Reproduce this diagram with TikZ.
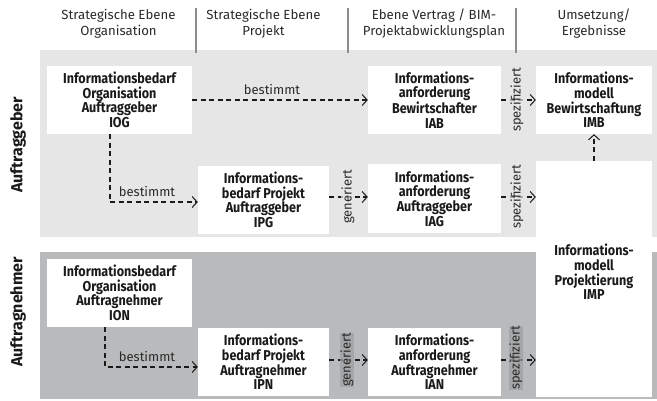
\documentclass[tikz,border=0pt]{standalone}
\usepackage{fontspec}
\setmainfont{Fira Sans}
\newfontfamily\boxfont{Fira Sans}[FakeStretch=0.88]
\usetikzlibrary{arrows.meta,calc}
\definecolor{lightbg}{HTML}{E6E6E6}
\definecolor{darkbg}{HTML}{B9BABC}
\definecolor{lblbg}{HTML}{9FA0A2}
\definecolor{sepcol}{HTML}{8C8C8C}
\definecolor{txt}{HTML}{1A1A1A}
\definecolor{hdrtxt}{HTML}{2A2A2A}
\begin{document}
\begin{tikzpicture}[x=1pt,y=-1pt,
  box/.style={fill=white,align=center,inner sep=0pt,text=txt,
    font=\boxfont\fontsize{14.3}{14.6}\selectfont\bfseries},
  hdr/.style={align=center,text=hdrtxt,inner sep=0pt,
    font=\fontsize{13.2}{16}\selectfont},
  rowlbl/.style={rotate=90,text=txt,inner sep=0pt,
    font=\fontsize{16}{16}\selectfont\bfseries},
  lbl/.style={text=hdrtxt,inner sep=0.6pt,
    font=\fontsize{13}{14}\selectfont},
  vlbl/.style={lbl,rotate=90,inner sep=0.3pt},
  lightlbl/.style={vlbl,fill=lightbg,fill opacity=0.7,text opacity=1},
  darklbl/.style={vlbl,fill=lblbg,fill opacity=0.75,text opacity=1},
  conn/.style={draw=txt,line width=1.4pt,dash pattern=on 5pt off 3.5pt,
    -{Straight Barb[length=5pt,width=11pt,line width=1pt]}},
  sepline/.style={draw=sepcol,line width=2.8pt}
]
\useasboundingbox (0,0) rectangle (657,401);
% backgrounds
\fill[lightbg] (40,50) rectangle (657,237);
\fill[darkbg] (40,252) rectangle (657,399);
% header separators
\draw[sepline] (196,8) -- (196,53);
\draw[sepline] (348,8) -- (348,53);
\draw[sepline] (516,8) -- (516,53);
% headers
\node[hdr] (h1) at (118.5,24) {Strategische Ebene\\Organisation};
\node[hdr] (h2) at (263.5,24) {Strategische Ebene\\Projekt};
\node[hdr] (h3) at (434,24) {Ebene Vertrag / BIM-\\Projektabwicklungsplan};
\node[hdr] (h4) at (594,24) {Umsetzung/\\Ergebnisse};
% row labels
\node[rowlbl] (rag) at (18,145) {Auftraggeber};
\node[rowlbl] (ran) at (18,312) {Auftragnehmer};
% boxes
\node[box,minimum width=145pt,minimum height=68pt] (iog) at (119.5,100)
  {Informationsbedarf\\Organisation\\Auftraggeber\\IOG};
\node[box,minimum width=133pt,minimum height=68pt] (iab) at (434.5,100)
  {Informations-\\anforderung\\Bewirtschafter\\IAB};
\node[box,minimum width=116pt,minimum height=68pt] (imb) at (594,100)
  {Informations-\\modell\\Bewirtschaftung\\IMB};
\node[box,minimum width=131pt,minimum height=68pt] (ipg) at (263.5,200)
  {Informations-\\bedarf Projekt\\Auftraggeber\\IPG};
\node[box,minimum width=133pt,minimum height=69pt] (iag) at (434.5,198.5)
  {Informations-\\anforderung\\Auftraggeber\\IAG};
\node[box,minimum width=116pt,minimum height=236pt] (imp) at (594,279) {};
\node[box] (imptext) at (594,272)
  {Informations-\\modell\\Projektierung\\IMP};
\node[box,minimum width=145pt,minimum height=68pt] (ion) at (119.5,293)
  {Informationsbedarf\\Organisation\\Auftragnehmer\\ION};
\node[box,minimum width=131pt,minimum height=68pt] (ipn) at (263.5,362)
  {Informations-\\bedarf Projekt\\Auftragnehmer\\IPN};
\node[box,minimum width=133pt,minimum height=68pt] (ian) at (434.5,362)
  {Informations-\\anforderung\\Auftragnehmer\\IAN};
% connector label anchors (labels drawn on top afterwards)
\coordinate (cg1) at (348,197);
\coordinate (cs1) at (517,100);
\coordinate (cs2) at (517,197);
\coordinate (cg2) at (347,360);
\coordinate (cs3) at (516,358);
% connectors
\draw[conn] (iog) -- (iab);
\draw[conn] ([xshift=-9.5pt]iog.south) |- ([yshift=-2pt]ipg.west);
\draw[conn] (ipg.east |- cg1) -- (iag.west |- cg1);
\draw[conn] (iab) -- (imb);
\draw[conn] (iag.east |- cs2) -- (imp.west |- cs2);
\draw[conn] (imp) -- (imb);
\draw[conn] ([xshift=-14.5pt]ion.south) |- ([yshift=-5pt]ipn.west);
\draw[conn] (ipn.east |- cg2) -- (ian.west |- cg2);
\draw[conn] (ian.east |- cg2) -- (imp.west |- cg2);
% connector labels
\node[lbl] (b1) at (272,90) {bestimmt};
\node[lbl] (b2) at (147,192) {bestimmt};
\node[lbl] (b3) at (147,357) {bestimmt};
\node[lightlbl] (g1) at (cg1) {generiert};
\node[lightlbl] (s1) at (cs1) {spezifiziert};
\node[lightlbl] (s2) at (cs2) {spezifiziert};
\node[darklbl] (g2) at (cg2) {generiert};
\node[darklbl] (s3) at (cs3) {spezifiziert};
\end{tikzpicture}
\end{document}
